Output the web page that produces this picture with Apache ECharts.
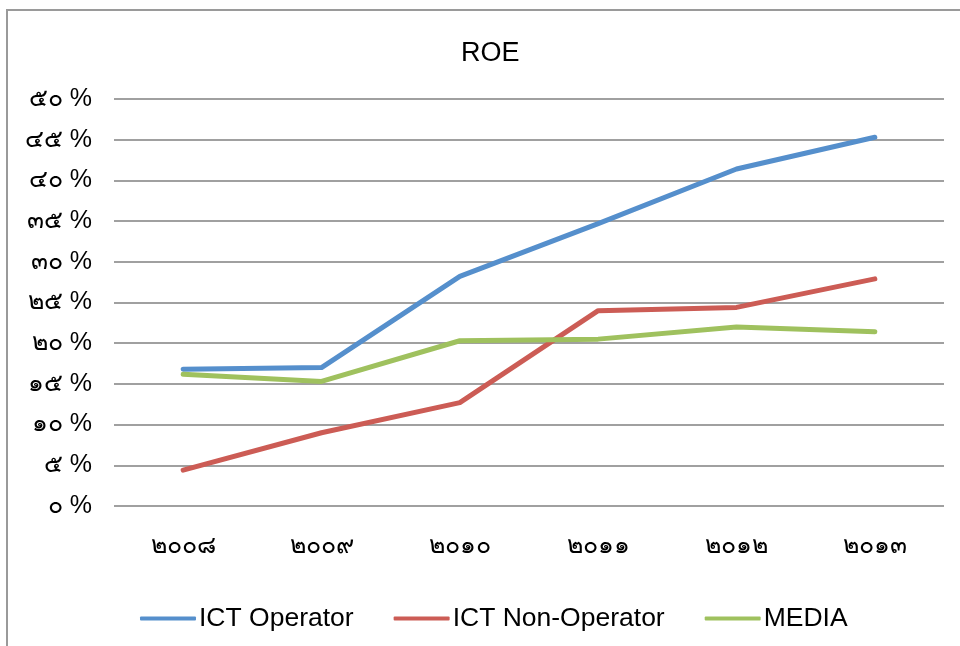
<!DOCTYPE html>
<html><head><meta charset="utf-8">
<script src="https://cdn.jsdelivr.net/npm/echarts@6/dist/echarts.min.js"></script>
<style>html,body{margin:0;padding:0;background:#fff}#c{width:960px;height:646px}</style>
</head><body><div id="c"></div>
<script>
var categories = ['๒๐๐๘','๒๐๐๙','๒๐๑๐','๒๐๑๑','๒๐๑๒','๒๐๑๓'];
var ictOperator = [16.8, 17.0, 28.2, 34.7, 41.4, 45.3];
var ictNonOperator = [4.4, 9.0, 12.7, 24.0, 24.4, 27.9];
var media = [16.2, 15.3, 20.3, 20.5, 22.0, 21.4];
var yTickNumbers = ['๐','๕','๑๐','๑๕','๒๐','๒๕','๓๐','๓๕','๔๐','๔๕','๕๐'];
var seriesNames = ['ICT Operator','ICT Non-Operator','MEDIA'];
var colors = ['#558FCC','#CC5C55','#9FC15E'];

var font = '"Liberation Sans", Arial, sans-serif';
var chart = echarts.init(document.getElementById('c'), null, {renderer:'canvas'});
function mk(name, data, color){
  return {name:name, type:'line', data:data, symbol:'none', smooth:false,
    lineStyle:{width:5, color:color, cap:'round', join:'round'}, itemStyle:{color:color}};
}
chart.setOption({
  animation:false,
  graphic:[{type:'rect', shape:{x:7, y:10, width:1000, height:700},
    style:{fill:'none', stroke:'#9a9a9a', lineWidth:2}, silent:true}],
  title:{text:'ROE', left:456, top:35, textStyle:{fontFamily:font, fontSize:27, fontWeight:'normal', color:'#000'}},
  grid:{left:114, right:16, top:99, bottom:140, containLabel:false},
  legend:{bottom:9, left:135, itemWidth:56, itemHeight:4, itemGap:40,
    icon:'roundRect',
    textStyle:{fontFamily:font, fontSize:26.5, color:'#000', padding:[0,0,0,-2]},
    data:seriesNames},
  xAxis:{type:'category', data:categories, boundaryGap:true,
    axisLine:{show:false}, axisTick:{show:false},
    axisLabel:{fontFamily:font, fontSize:25, color:'#000', margin:28}},
  yAxis:{type:'value', min:0, max:50, interval:5,
    axisLine:{show:false}, axisTick:{show:false},
    splitLine:{lineStyle:{color:'#a0a0a0', width:2}},
    axisLabel:{color:'#000', margin:22,
      formatter:function(v){return '{d|' + yTickNumbers[Math.round(v/5)] + '}{p| %}';},
      rich:{d:{fontFamily:font, fontSize:25, color:'#000'}, p:{fontFamily:font, fontSize:25, color:'#000'}}}},
  series:[mk(seriesNames[0], ictOperator, colors[0]), mk(seriesNames[1], ictNonOperator, colors[1]), mk(seriesNames[2], media, colors[2])]
});
</script></body></html>
